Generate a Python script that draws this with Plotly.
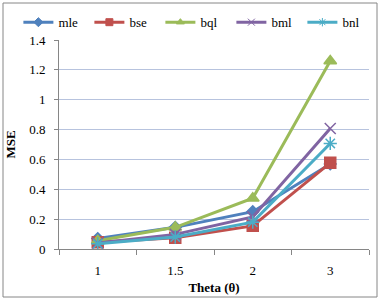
import plotly.graph_objects as go

categories = ["1", "1.5", "2", "3"]
mle = [0.07, 0.145, 0.25, 0.57]
bse = [0.045, 0.075, 0.155, 0.577]
bql = [0.055, 0.145, 0.34, 1.26]
bml = [0.04, 0.098, 0.215, 0.807]
bnl = [0.035, 0.08, 0.18, 0.707]
names = ["mle", "bse", "bql", "bml", "bnl"]
y_ticks = [0, 0.2, 0.4, 0.6, 0.8, 1, 1.2, 1.4]
y_labels = ["0", "0.2", "0.4", "0.6", "0.8", "1", "1.2", "1.4"]

series = [mle, bse, bql, bml, bnl]
colors = ["#4F81BD", "#C0504D", "#9BBB59", "#8064A2", "#4BACC6"]
symbols = ["diamond", "square", "triangle-up", "x-thin-open", "asterisk-open"]
sizes = [9, 11, 11, 11, 11]

fig = go.Figure()
for name, vals, c, s, sz in zip(names, series, colors, symbols, sizes):
    fig.add_trace(go.Scatter(
        x=categories, y=vals, name=name, mode="lines+markers", showlegend=False,
        line=dict(color=c, width=3),
        marker=dict(symbol=s, size=sz, color=c, line=dict(color=c, width=1.5)),
    ))
# legend proxies with smaller markers
for name, c, s in zip(names, colors, symbols):
    fig.add_trace(go.Scatter(
        x=[None], y=[None], name=name, mode="lines+markers", showlegend=True,
        line=dict(color=c, width=3),
        marker=dict(symbol=s, size=7, color=c, line=dict(color=c, width=1)),
    ))

font = "Liberation Serif, Times New Roman, serif"
fig.update_layout(
    width=380, height=301,
    margin=dict(l=59, r=11, t=40, b=52, autoexpand=False),
    paper_bgcolor="white", plot_bgcolor="white",
    font=dict(family=font, size=12, color="black"),
    showlegend=True,
    legend=dict(orientation="h", x=-0.131, y=1.085, xanchor="left", yanchor="middle",
                font=dict(family=font, size=13), entrywidth=26, entrywidthmode="pixels",
                itemwidth=30, tracegroupgap=0, bgcolor="rgba(0,0,0,0)"),
    xaxis=dict(type="category", range=[-0.5, 3.5], showgrid=False, showline=True,
               linecolor="#868686",
               ticks="outside", ticklen=5, tickcolor="#868686", tickson="boundaries",
               tickfont=dict(family=font, size=13), ticklabelstandoff=9,
               title=dict(text="<b>Theta (θ)</b>", font=dict(family=font, size=13), standoff=6),
               zeroline=False),
    yaxis=dict(range=[0, 1.4], tickvals=y_ticks, ticktext=y_labels,
               showgrid=True, gridcolor="#B7C3DE", gridwidth=1,
               showline=True, linecolor="#868686", ticks="outside", ticklen=4,
               tickcolor="#868686", ticklabelstandoff=6,
               tickfont=dict(family=font, size=13),
               title=dict(text="<b>MSE</b>", font=dict(family=font, size=13), standoff=10),
               zeroline=False),
    shapes=[dict(type="rect", xref="paper", yref="paper",
                 x0=(3 - 59) / 310, x1=(377 - 59) / 310,
                 y0=(249 - 297) / 209, y1=(249 - 3) / 209,
                 line=dict(color="#868686", width=1), fillcolor="rgba(0,0,0,0)")],
)

fig.write_html("out.html", config={"displayModeBar": False},
               post_script="document.body.style.margin='0';")
